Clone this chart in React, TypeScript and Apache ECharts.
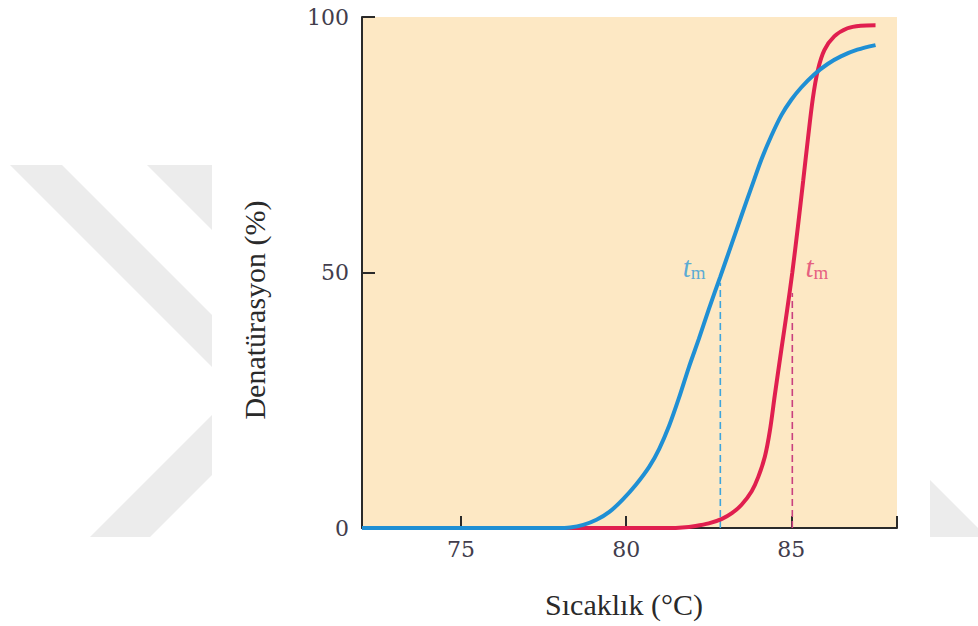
import React, { useEffect, useRef } from "react";
import * as echarts from "echarts";

// Temperature (°C) and denaturation (%) — blue curve
const blueTemp = [72, 77.9, 78.3, 78.7, 79.1, 79.5, 79.9, 80.3, 80.7, 81.0, 81.3, 81.6, 81.9, 82.2, 82.5, 82.85, 83.2, 83.5, 83.8, 84.1, 84.4, 84.7, 85.0, 85.3, 85.7, 86.1, 86.5, 87.0, 87.55];
const blueDen = [0, 0, 0.1, 0.6, 1.6, 3.2, 5.6, 8.5, 12, 15.5, 20, 25.5, 31.5, 37, 42.8, 49.2, 55.7, 61.3, 66.8, 72.2, 76.8, 80.8, 83.8, 86.2, 88.8, 90.8, 92.3, 93.6, 94.5];

// Red curve
const redTemp = [72, 81.3, 81.7, 82.1, 82.5, 82.9, 83.2, 83.5, 83.8, 84.0, 84.2, 84.35, 84.5, 84.7, 84.87, 85.03, 85.2, 85.36, 85.5, 85.65, 85.8, 86.0, 86.3, 86.7, 87.1, 87.55];
const redDen = [0, 0, 0.1, 0.4, 0.9, 1.8, 2.9, 4.6, 7.2, 10, 14, 19, 26, 35, 42.5, 50, 59, 68, 76, 84, 89.5, 93.5, 96.2, 97.8, 98.3, 98.4];

// Melting temperatures and where their dashed guides stop
const tmBlue = 82.85;
const tmBlueTop = 48;
const tmRed = 85.03;
const tmRedTop = 46;

const xTickLabels = [75, 80, 85];
const yTicks = [0, 50, 100];
const xMin = 72;
const xMax = 88.2;

const SERIF = "'Liberation Serif', 'DejaVu Serif', serif";
const NUMF = "'DejaVu Serif', 'Liberation Serif', serif";

export default function App() {
  const ref = useRef<HTMLDivElement>(null);

  useEffect(() => {
    if (!ref.current) return;
    const chart = echarts.init(ref.current, null, { renderer: "svg" });
    const blueData = blueTemp.map((t, i) => [t, blueDen[i]]);
    const redData = redTemp.map((t, i) => [t, redDen[i]]);
    const wm = "#ececec";

    chart.setOption({
      animation: false,
      backgroundColor: "#ffffff",
      grid: {
        left: 362,
        right: 81,
        top: 17,
        bottom: 98,
        show: true,
        backgroundColor: "#fde8c4",
        borderWidth: 0,
      },
      xAxis: {
        type: "value",
        min: xMin,
        max: xMax,
        axisLine: { show: true, lineStyle: { color: "#2a2a2a", width: 2 } },
        axisTick: {
          show: true,
          inside: true,
          length: 12,
          customValues: [...xTickLabels, xMax],
          lineStyle: { color: "#2a2a2a", width: 2 },
        },
        axisLabel: {
          customValues: xTickLabels,
          fontFamily: NUMF,
          fontSize: 22,
          color: "#423d4c",
          margin: 10,
        },
        splitLine: { show: false },
      },
      yAxis: {
        type: "value",
        min: 0,
        max: 100,
        interval: 50,
        axisLine: { show: true, lineStyle: { color: "#2a2a2a", width: 2 } },
        axisTick: {
          show: true,
          inside: true,
          length: 13,
          lineStyle: { color: "#2a2a2a", width: 2 },
        },
        axisLabel: {
          fontFamily: NUMF,
          fontSize: 22,
          color: "#423d4c",
          margin: 13,
          formatter: (v: number) => (yTicks.includes(v) ? String(v) : ""),
        },
        splitLine: { show: false },
      },
      graphic: [
        { type: "polygon", silent: true, shape: { points: [[10, 165], [62, 165], [212, 315], [212, 367]] }, style: { fill: wm } },
        { type: "polygon", silent: true, shape: { points: [[212, 415], [212, 475], [150, 537], [90, 537]] }, style: { fill: wm } },
        { type: "polygon", silent: true, shape: { points: [[147, 165], [212, 165], [212, 230]] }, style: { fill: wm } },
        { type: "polygon", silent: true, shape: { points: [[930, 480], [930, 537], [987, 537]] }, style: { fill: wm } },
        {
          type: "text",
          x: 624,
          y: 604,
          style: { text: "Sıcaklık (°C)", fill: "#2a2a2a", font: `30px ${SERIF}`, align: "center", verticalAlign: "middle" },
        },
        {
          type: "text",
          x: 254,
          y: 310,
          rotation: Math.PI / 2,
          style: { text: "Denatürasyon (%)", fill: "#2a2a2a", font: `30px ${SERIF}`, align: "center", verticalAlign: "middle" },
        },
      ],
      series: [
        {
          type: "line",
          data: [[tmBlue, 0], [tmBlue, tmBlueTop]],
          symbol: "none",
          lineStyle: { color: "#3ea5dc", width: 1.6, type: [7, 4] },
          z: 1,
        },
        {
          type: "line",
          data: [[tmRed, 0], [tmRed, tmRedTop]],
          symbol: "none",
          lineStyle: { color: "#c9417f", width: 1.6, type: [7, 4] },
          z: 1,
        },
        {
          type: "line",
          data: redData,
          symbol: "none",
          smooth: 0.3,
          lineStyle: { color: "#e01f4f", width: 4 },
          z: 3,
        },
        {
          type: "line",
          data: blueData,
          symbol: "none",
          smooth: 0.3,
          lineStyle: { color: "#1f8fd4", width: 4 },
          z: 4,
        },
        {
          type: "scatter",
          symbolSize: 0,
          data: [[tmBlue - 0.45, 51]],
          label: {
            show: true,
            position: "left",
            distance: 0,
            formatter: "{t|t}{m|m}",
            rich: {
              t: { fontFamily: SERIF, fontStyle: "italic", fontSize: 29, color: "#2f9bd8" },
              m: { fontFamily: SERIF, fontSize: 19, color: "#2f9bd8", padding: [11, 0, 0, 0] },
            },
          },
          z: 5,
        },
        {
          type: "scatter",
          symbolSize: 0,
          data: [[tmRed + 0.4, 51]],
          label: {
            show: true,
            position: "right",
            distance: 0,
            formatter: "{t|t}{m|m}",
            rich: {
              t: { fontFamily: SERIF, fontStyle: "italic", fontSize: 29, color: "#e03a6e" },
              m: { fontFamily: SERIF, fontSize: 19, color: "#e03a6e", padding: [11, 0, 0, 0] },
            },
          },
          z: 5,
        },
      ],
    });
    return () => chart.dispose();
  }, []);

  return (
    <div
      ref={ref}
      style={{ position: "fixed", left: 0, top: 0, width: 978, height: 626 }}
    />
  );
}
